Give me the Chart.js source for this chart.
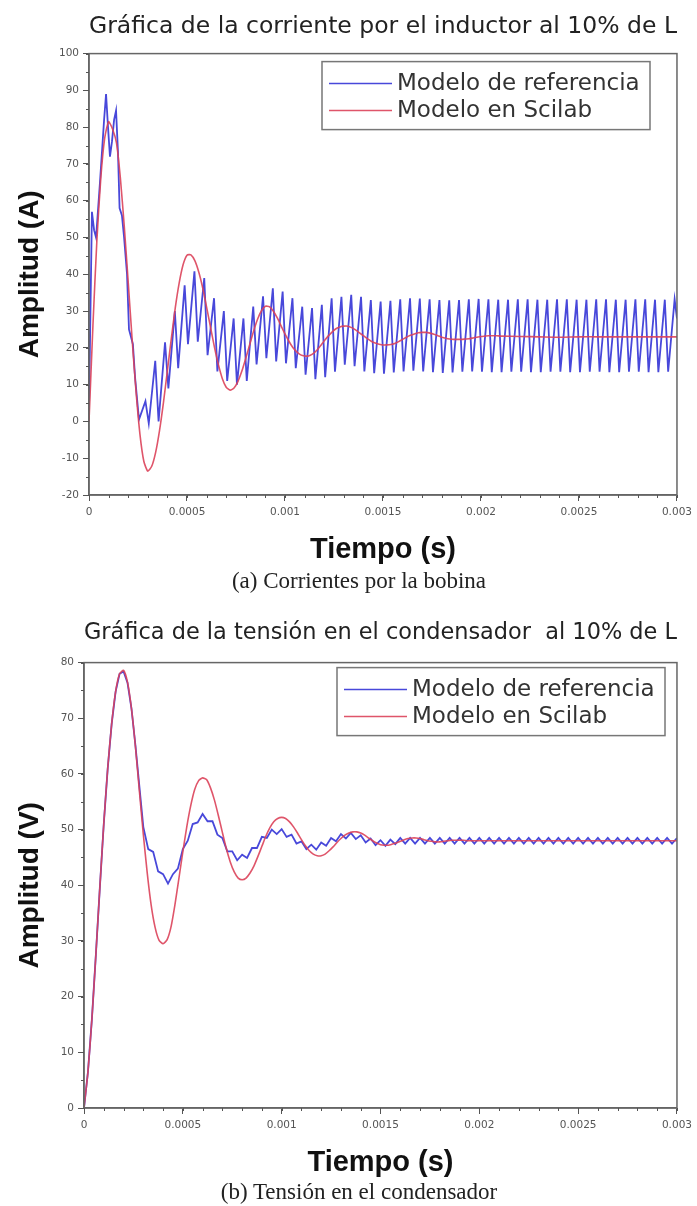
<!DOCTYPE html>
<html>
<head>
<meta charset="utf-8">
<script src="https://cdn.jsdelivr.net/npm/chart.js@4.4.1/dist/chart.umd.min.js"></script>
<style>
  html, body { margin: 0; padding: 0; background: #fff; }
  body { width: 697px; height: 1206px; position: relative; overflow: hidden; }
  .box { position: absolute; left: 0; width: 697px; }
  .caption { position: absolute; left: 0; width: 718px; text-align: center; font-family: "Liberation Serif", serif; font-size: 23px; line-height: 26px; color: #222; }
</style>
</head>
<body>
<div class="box" style="top:0;height:570px"><canvas id="currentChart"></canvas></div>
<div class="caption" style="top:568px">(a) Corrientes por la bobina</div>
<div class="box" style="top:590px;height:593px"><canvas id="voltageChart"></canvas></div>
<div class="caption" style="top:1179px">(b) Tensión en el condensador</div>

<script>
// axis ticks (seconds)
const timeTicks = [0, 0.0005, 0.001, 0.0015, 0.002, 0.0025, 0.003];
const timeTickLabels = ['0', '0.0005', '0.001', '0.0015', '0.002', '0.0025', '0.003'];

// time in microseconds for the Scilab curves (both charts)
const scilabTime = [
  0, 20, 40, 60, 80, 100, 120, 140, 160, 180,
  200, 220, 240, 260, 280, 300, 320, 340, 360, 380,
  400, 420, 440, 460, 480, 500, 520, 540, 560, 580,
  600, 620, 640, 660, 680, 700, 720, 740, 760, 780,
  800, 820, 840, 860, 880, 900, 920, 940, 960, 980,
  1000, 1020, 1040, 1060, 1080, 1100, 1120, 1140, 1160, 1180,
  1200, 1220, 1240, 1260, 1280, 1300, 1320, 1340, 1360, 1380,
  1400, 1420, 1440, 1460, 1480, 1500, 1520, 1540, 1560, 1580,
  1600, 1620, 1640, 1660, 1680, 1700, 1720, 1740, 1760, 1780,
  1800, 1820, 1840, 1860, 1880, 1900, 1920, 1940, 1960, 1980,
  2000, 2020, 2040, 2060, 2080, 2100, 2200, 2300, 2400, 2500,
  2600, 2700, 2800, 2900, 3000
];

// (a) inductor current, Scilab model (A)
const scilabCurrent = [
  0, 26, 49, 66, 77, 81.5, 79.5, 75.8, 66.2, 53,
  37.9, 22.4, 8.1, -3.5, -10.9, -13.5, -12.2, -8.4, -2.4, 5.2,
  13.8, 22.5, 30.8, 37.6, 42.6, 45.2, 45.3, 43.7, 40.6, 36.3,
  31.1, 25.6, 20.2, 15.5, 11.7, 9.3, 8.5, 9.1, 10.9, 13.7,
  17.2, 20.9, 24.6, 27.8, 30.1, 31.3, 31.2, 30, 28.2, 26,
  23.8, 21.8, 20.1, 18.9, 18.1, 17.8, 17.8, 18.3, 19.2, 20.5,
  21.9, 23.2, 24.3, 25.2, 25.7, 25.9, 25.9, 25.5, 24.9, 24.1,
  23.3, 22.5, 21.8, 21.3, 21, 20.8, 20.8, 20.9, 21.2, 21.7,
  22.3, 22.9, 23.4, 23.8, 24.1, 24.2, 24.2, 24, 23.7, 23.3,
  22.9, 22.6, 22.4, 22.3, 22.3, 22.3, 22.4, 22.5, 22.7, 22.9,
  23.1, 23.2, 23.3, 23.3, 23.3, 23.2, 23.1, 23, 22.9, 23,
  23, 23, 23, 23, 23
];

// (a) inductor current, reference model (A)
const refCurrentTime = [
  0, 8, 15, 26, 36, 56, 77, 87, 97, 107,
  117, 128, 138, 148, 156, 168, 179, 194, 204, 214,
  224, 235,
  255, 288, 305, 338, 355, 388, 405, 438, 455, 488,
  505, 538, 555, 588, 605, 638, 655, 688, 705, 738,
  755, 788, 805, 838, 855, 888, 905, 938, 955, 988,
  1005, 1038, 1055, 1088, 1105, 1138, 1155, 1188, 1205, 1238,
  1255, 1288, 1305, 1338, 1355, 1388, 1405, 1438, 1455, 1488,
  1505, 1538, 1555, 1588, 1605, 1638, 1655, 1688, 1705, 1738,
  1755, 1788, 1805, 1838, 1855, 1888, 1905, 1938, 1955, 1988,
  2005, 2038, 2055, 2088, 2105, 2138, 2155, 2188, 2205, 2238,
  2255, 2288, 2305, 2338, 2355, 2388, 2405, 2438, 2455, 2488,
  2505, 2538, 2555, 2588, 2605, 2638, 2655, 2688, 2705, 2738,
  2755, 2788, 2805, 2838, 2855, 2888, 2905, 2938, 2955, 2988,
  3000
];
const refCurrent = [
  3, 32, 57, 52, 50, 65, 82, 89, 80, 72,
  76, 82, 84.5, 73, 58, 56, 50, 40, 25, 23,
  21, 12,
  0.5, 5.5, -0.5, 16.5, 0, 21.5, 9, 30, 14.5, 37,
  21, 40.8, 21.7, 39, 18, 33.5, 13.6, 30, 11, 28,
  10, 28, 11, 31.2, 15.5, 34, 17.2, 36.2, 16.3, 35.3,
  15.8, 33.5, 14.5, 31.2, 12.7, 30.8, 11.5, 31.7, 12, 33.5,
  13.5, 33.9, 15.4, 34.4, 15, 33.9, 13.6, 33, 13.1, 32.6,
  13, 32.8, 13.3, 33.2, 13.6, 33.5, 13.8, 33.4, 13.6, 33.2,
  13.4, 33, 13.2, 32.9, 13.3, 33, 13.5, 33.2, 13.6, 33.3,
  13.5, 33.2, 13.4, 33.1, 13.4, 33.1, 13.5, 33.2, 13.5, 33.2,
  13.4, 33.1, 13.4, 33.1, 13.5, 33.2, 13.5, 33.2, 13.4, 33.1,
  13.4, 33.1, 13.5, 33.2, 13.5, 33.2, 13.4, 33.1, 13.4, 33.1,
  13.5, 33.2, 13.5, 33.2, 13.4, 33.1, 13.4, 33.1, 13.5, 33.2,
  28
];

// (b) capacitor voltage, Scilab model (V)
const scilabVoltage = [
  0, 6.5, 16, 27.5, 39.5, 51, 61, 69, 74.8, 78,
  78.6, 76.5, 71.8, 65, 57, 49.2, 42.2, 36.4, 32.4, 30.1,
  29.5, 30.2, 32.5, 36.5, 41.2, 46, 50.5, 54.3, 57.2, 58.8,
  59.3, 59, 57.5, 55.3, 52.5, 49.5, 46.6, 44.2, 42.4, 41.3,
  41, 41.3, 42.2, 43.5, 45.2, 47, 48.8, 50.3, 51.4, 52,
  52.2, 52, 51.4, 50.5, 49.4, 48.2, 47.1, 46.2, 45.6, 45.3,
  45.3, 45.6, 46.2, 46.9, 47.7, 48.4, 49, 49.4, 49.6, 49.6,
  49.4, 49, 48.5, 48, 47.6, 47.3, 47.2, 47.2, 47.4, 47.6,
  47.9, 48.2, 48.4, 48.5, 48.5, 48.4, 48.2, 48, 47.9, 47.8,
  47.8, 47.9, 48, 48.1, 48.1, 48.1, 48.1, 48, 48, 48,
  48, 48, 48, 48, 48, 48, 48, 48, 48, 48,
  48, 48, 48, 48, 48
];

// (b) capacitor voltage, reference model (V)
const refVoltageTime = [
  0, 20, 40, 60, 80, 100, 120, 140, 160, 180,
  200, 220, 240, 260, 280,
  300, 325, 350, 375, 400, 425, 450, 475, 500, 525,
  550, 575, 600, 625, 650, 675, 700, 725, 750, 775,
  800, 825, 850, 875, 900, 925, 950, 975, 1000, 1025,
  1050, 1075, 1100, 1125, 1150, 1175, 1200, 1225, 1250, 1275,
  1300, 1325, 1350, 1375, 1400, 1425, 1450, 1475, 1500, 1525,
  1550, 1575, 1600, 1625, 1650, 1675, 1700, 1725, 1750, 1775,
  1800, 1825, 1850, 1875, 1900, 1925, 1950, 1975, 2000, 2025,
  2050, 2075, 2100, 2125, 2150, 2175, 2200, 2225, 2250, 2275,
  2300, 2325, 2350, 2375, 2400, 2425, 2450, 2475, 2500, 2525,
  2550, 2575, 2600, 2625, 2650, 2675, 2700, 2725, 2750, 2775,
  2800, 2825, 2850, 2875, 2900, 2925, 2950, 2975, 3000
];
const refVoltage = [
  0, 6.5, 16, 27.5, 39.5, 51, 61, 69, 74.8, 78,
  78.4, 76.4, 71.8, 65.2, 57.8,
  50.5, 46.5, 46, 42.5, 42, 40.3, 42, 43, 46.5, 48,
  51, 51.3, 52.8, 51.5, 51.5, 49.1, 48.5, 46.1, 46.1, 44.5,
  45.5, 44.9, 46.7, 46.7, 48.7, 48.5, 50, 49.2, 50.1, 48.7,
  49.1, 47.5, 47.9, 46.5, 47.3, 46.4, 47.7, 47.1, 48.5, 47.9,
  49.2, 48.4, 49.4, 48.3, 49, 47.7, 48.4, 47.2, 48.1, 47.1,
  48.2, 47.4, 48.5, 47.5, 48.5, 47.5, 48.5, 47.5, 48.5, 47.5,
  48.5, 47.5, 48.5, 47.5, 48.5, 47.5, 48.5, 47.5, 48.5, 47.5,
  48.5, 47.5, 48.5, 47.5, 48.5, 47.5, 48.5, 47.5, 48.5, 47.5,
  48.5, 47.5, 48.5, 47.5, 48.5, 47.5, 48.5, 47.5, 48.5, 47.5,
  48.5, 47.5, 48.5, 47.5, 48.5, 47.5, 48.5, 47.5, 48.5, 47.5,
  48.5, 47.5, 48.5, 47.5, 48.5, 47.5, 48.5, 47.5, 48.5
];

const refColor = 'rgb(72, 72, 218)';
const scilabColor = 'rgba(220, 66, 90, 0.9)';

function points(times, values) {
  return times.map((t, i) => ({ x: t / 1e6, y: values[i] }));
}

// frame around the plot area
const plotFrame = {
  id: 'plotFrame',
  afterDatasetsDraw(chart) {
    const { ctx, chartArea: a } = chart;
    ctx.save();
    ctx.strokeStyle = '#666';
    ctx.lineWidth = 1.5;
    ctx.strokeRect(a.left, a.top, a.right - a.left, a.bottom - a.top);
    ctx.restore();
  }
};

// short minor ticks between the labelled ones
const minorTicks = {
  id: 'minorTicks',
  afterDraw(chart, args, opts) {
    const { ctx } = chart;
    const x = chart.scales.x, y = chart.scales.y;
    ctx.save();
    ctx.strokeStyle = '#555';
    ctx.lineWidth = 1;
    ctx.beginPath();
    for (let v = x.min; v <= x.max + 1e-9; v += opts.x) {
      const px = Math.round(x.getPixelForValue(v)) + 0.5;
      ctx.moveTo(px, x.top);
      ctx.lineTo(px, x.top + 3);
    }
    for (let v = y.min; v <= y.max + 1e-9; v += opts.y) {
      const py = Math.round(y.getPixelForValue(v)) + 0.5;
      ctx.moveTo(y.right, py);
      ctx.lineTo(y.right - 3, py);
    }
    ctx.stroke();
    ctx.restore();
  }
};

// boxed legend inside the plot area
const boxLegend = {
  id: 'boxLegend',
  afterDraw(chart, args, opts) {
    const { ctx, chartArea } = chart;
    const x0 = chartArea.left + opts.left;
    const y0 = chartArea.top + opts.top;
    ctx.save();
    ctx.fillStyle = '#fff';
    ctx.fillRect(x0, y0, opts.width, opts.height);
    ctx.strokeStyle = '#777';
    ctx.lineWidth = 1.5;
    ctx.strokeRect(x0, y0, opts.width, opts.height);
    ctx.font = '23px "DejaVu Sans"';
    ctx.textBaseline = 'middle';
    chart.data.datasets.forEach((ds, i) => {
      const ly = y0 + opts.rows[i];
      ctx.strokeStyle = ds.borderColor;
      ctx.lineWidth = 1.5;
      ctx.beginPath();
      ctx.moveTo(x0 + 7, ly);
      ctx.lineTo(x0 + 70, ly);
      ctx.stroke();
      ctx.fillStyle = '#333';
      ctx.fillText(ds.label, x0 + 75, ly);
    });
    ctx.restore();
  }
};

function buildChart(id, cfg) {
  return new Chart(document.getElementById(id), {
    type: 'line',
    data: {
      datasets: [
        {
          label: 'Modelo de referencia',
          data: points(cfg.refTime, cfg.refValues),
          borderColor: refColor,
          borderWidth: 1.8,
          pointRadius: 0,
          tension: 0,
          order: 1
        },
        {
          label: 'Modelo en Scilab',
          data: points(scilabTime, cfg.scilabValues),
          borderColor: scilabColor,
          borderWidth: 1.6,
          pointRadius: 0,
          tension: 0.2,
          order: 0
        }
      ]
    },
    options: {
      responsive: true,
      maintainAspectRatio: false,
      animation: false,
      layout: { padding: { left: 0, right: 19, top: 0, bottom: 0 } },
      plugins: {
        legend: { display: false },
        tooltip: { enabled: false },
        title: {
          display: true,
          text: cfg.title,
          fullSize: false,
          color: '#222',
          font: { family: 'DejaVu Sans', size: 23.5, weight: 'normal' },
          padding: { top: cfg.titleTop, bottom: cfg.titleBottom }
        },
        boxLegend: { left: cfg.legendLeft, top: cfg.legendTop, width: 328, height: 68, rows: [22, 49] },
        minorTicks: { x: 0.0001, y: 5 }
      },
      scales: {
        x: {
          type: 'linear',
          min: 0,
          max: 0.003,
          afterBuildTicks: s => { s.ticks = timeTicks.map(v => ({ value: v })); },
          afterFit: s => { s.height = cfg.xHeight; },
          ticks: {
            autoSkip: false,
            maxRotation: 0,
            padding: 5,
            color: '#555',
            font: { family: 'DejaVu Sans', size: 10.5 },
            callback: (v, i) => timeTickLabels[i]
          },
          grid: { drawOnChartArea: false, tickLength: 6, tickColor: '#555' },
          border: { color: '#666', width: 1.5 },
          title: {
            display: true,
            text: 'Tiempo (s)',
            color: '#111',
            font: { family: 'Liberation Sans', size: 29, weight: 'bold' },
            padding: { top: 0, bottom: 3 }
          }
        },
        y: {
          min: cfg.yMin,
          max: cfg.yMax,
          afterFit: s => { s.width = cfg.yWidth; },
          ticks: {
            stepSize: 10,
            padding: 4,
            color: '#555',
            font: { family: 'DejaVu Sans', size: 10.5 }
          },
          grid: { drawOnChartArea: false, tickLength: 6, tickColor: '#555' },
          border: { color: '#666', width: 1.5 },
          title: {
            display: true,
            text: cfg.yTitle,
            color: '#111',
            font: { family: 'Liberation Sans', size: 28, weight: 'bold' },
            padding: { top: 13, bottom: 0 }
          }
        }
      }
    },
    plugins: [plotFrame, minorTicks, boxLegend]
  });
}

buildChart('currentChart', {
  title: 'Gráfica de la corriente por el inductor al 10% de L',
  titleTop: 13, titleBottom: 12.4,
  refTime: refCurrentTime, refValues: refCurrent, scilabValues: scilabCurrent,
  yMin: -20, yMax: 100, yTitle: 'Amplitud (A)', yWidth: 89, xHeight: 75,
  legendLeft: 233, legendTop: 8
});

buildChart('voltageChart', {
  title: 'Gráfica de la tensión en el condensador  al 10% de L',
  titleTop: 29.2, titleBottom: 15.2,
  refTime: refVoltageTime, refValues: refVoltage, scilabValues: scilabVoltage,
  yMin: 0, yMax: 80, yTitle: 'Amplitud (V)', yWidth: 84, xHeight: 75,
  legendLeft: 253, legendTop: 5
});
</script>
</body>
</html>
